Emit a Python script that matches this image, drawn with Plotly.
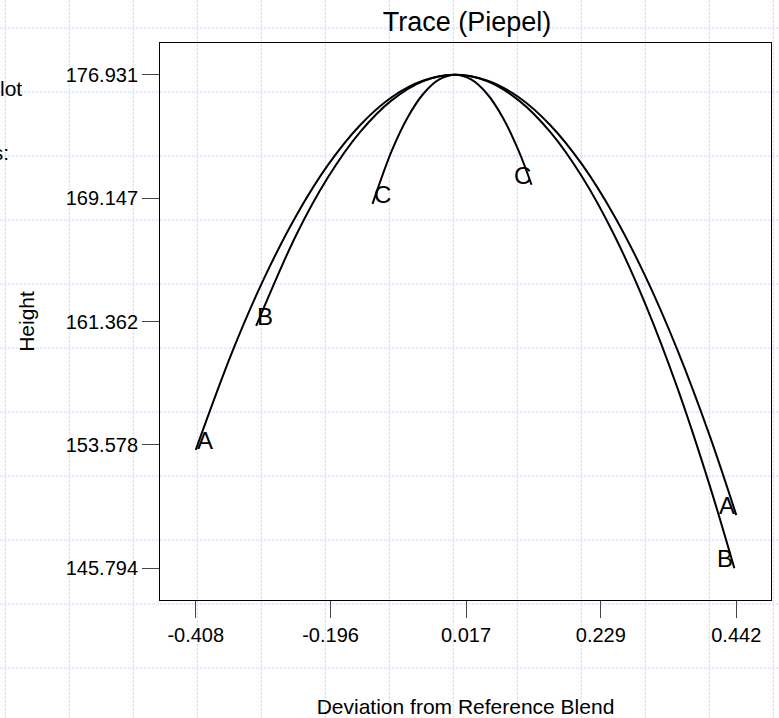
import plotly.graph_objects as go

# ---- data ----
a_x = [-0.408, -0.35, -0.30, -0.25, -0.20, -0.15, -0.10, -0.05, 0.0,
       0.05, 0.10, 0.15, 0.20, 0.25, 0.30, 0.35, 0.40, 0.442]
a_y = [153.26, 159.51, 164.13, 168.04, 171.24, 173.73, 175.51, 176.57, 176.931,
       176.57, 175.51, 173.73, 171.24, 168.04, 164.13, 159.51, 154.18, 149.15]

b_x = [-0.313, -0.25, -0.20, -0.15, -0.10, -0.05, 0.0,
       0.05, 0.10, 0.15, 0.20, 0.25, 0.30, 0.35, 0.40, 0.439]
b_y = [161.08, 166.82, 170.46, 173.29, 175.31, 176.53, 176.931,
       176.53, 175.31, 173.29, 170.46, 166.82, 162.37, 157.11, 151.04, 145.794]

c_x = [-0.130, -0.10, -0.075, -0.05, -0.025, 0.0, 0.025, 0.05, 0.075, 0.10, 0.120]
c_y = [168.78, 172.11, 174.22, 175.73, 176.63, 176.931, 176.63, 175.73, 174.22, 172.11, 169.99]

series = [("A", a_x, a_y), ("B", b_x, b_y), ("C", c_x, c_y)]

x_ticks = [-0.408, -0.196, 0.017, 0.229, 0.442]
x_tick_text = ["-0.408", "-0.196", "0.017", "0.229", "0.442"]
y_ticks = [145.794, 153.578, 161.362, 169.147, 176.931]
y_tick_text = ["145.794", "153.578", "161.362", "169.147", "176.931"]

x_range = [-0.4642, 0.4966]
y_range = [143.793, 178.932]

# ---- layout geometry (pixels) ----
W, H = 779, 718
ML, MR, MT, MB = 160, 8, 43, 118
PW, PH = W - ML - MR, H - MT - MB
FONT = "Liberation Sans, Arial, Helvetica, sans-serif"


def px_x(p):
    return (p - ML) / PW


def px_y(p):
    return (MT + PH - p) / PH


fig = go.Figure()

for name, xs, ys in series:
    fig.add_trace(go.Scatter(x=xs, y=ys, mode="lines", name=name,
                             line=dict(color="black", width=2, shape="spline"),
                             showlegend=False, hoverinfo="x+y+name"))

annotations = []
for name, xs, ys in series:
    # label at each end of the trace
    annotations.append(dict(x=xs[0], y=ys[0], xref="x", yref="y", text=name,
                            showarrow=False, xanchor="left", yanchor="bottom",
                            xshift=-1, yshift=-6,
                            font=dict(family=FONT, size=24, color="black")))
    annotations.append(dict(x=xs[-1], y=ys[-1], xref="x", yref="y", text=name,
                            showarrow=False, xanchor="right", yanchor="bottom",
                            xshift=1, yshift=-6,
                            font=dict(family=FONT, size=24, color="black")))

# partially hidden page text on the far left (cut off by the page edge, as in the reference)
annotations.append(dict(x=px_x(24), y=px_y(89), xref="paper", yref="paper", text="Plot",
                        showarrow=False, xanchor="right", yanchor="middle",
                        font=dict(family=FONT, size=21, color="black")))
annotations.append(dict(x=px_x(11), y=px_y(153), xref="paper", yref="paper", text="Options:",
                        showarrow=False, xanchor="right", yanchor="middle",
                        font=dict(family=FONT, size=21, color="black")))

# page background graph-paper grid
shapes = []
grid_line = dict(color="#d3ddfa", width=1, dash="3px,1px")
xv = 5.3
while xv < W:
    shapes.append(dict(type="line", xref="paper", yref="paper",
                       x0=px_x(xv), x1=px_x(xv), y0=px_y(0), y1=px_y(H),
                       line=grid_line, layer="below"))
    xv += 64
yv = 28
while yv < H:
    shapes.append(dict(type="line", xref="paper", yref="paper",
                       x0=px_x(0), x1=px_x(W), y0=px_y(yv), y1=px_y(yv),
                       line=grid_line, layer="below"))
    yv += 64

axis_common = dict(showline=True, mirror=True, linecolor="black", linewidth=1,
                   ticks="outside", ticklen=17, tickwidth=1, tickcolor="#444",
                   showgrid=False, zeroline=False, automargin=False,
                   tickfont=dict(family=FONT, size=20, color="black"))

fig.update_layout(
    width=W, height=H,
    margin=dict(l=ML, r=MR, t=MT, b=MB, pad=0),
    paper_bgcolor="white", plot_bgcolor="rgba(0,0,0,0)",
    title=dict(text="Trace (Piepel)", x=px_x(467), xref="paper", xanchor="center",
               y=1 - 22 / H, yref="container", yanchor="middle",
               font=dict(family=FONT, size=27, color="black")),
    xaxis=dict(range=x_range, tickvals=x_ticks, ticktext=x_tick_text,
               title=dict(text="Deviation from Reference Blend", standoff=55,
                          font=dict(family=FONT, size=21, color="black")),
               **axis_common),
    yaxis=dict(range=y_range, tickvals=y_ticks, ticktext=y_tick_text,
               title=dict(text="Height", standoff=25,
                          font=dict(family=FONT, size=21, color="black")),
               **axis_common),
    annotations=annotations,
    shapes=shapes,
    showlegend=False,
)

fig.write_html("out.html",
               config={"displayModeBar": False},
               post_script="document.body.style.margin='0';"
                           "document.body.style.overflow='hidden';")
